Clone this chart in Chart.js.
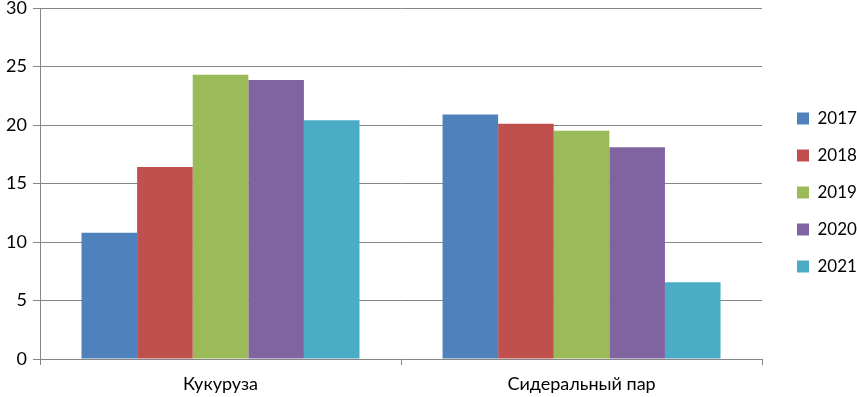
<!DOCTYPE html>
<html><head><meta charset="utf-8">
<script src="https://cdn.jsdelivr.net/npm/chart.js@4/dist/chart.umd.min.js"></script>
<style>html,body{margin:0;padding:0;background:#fff}#w{width:857px;height:397px}</style>
</head><body><div id="w"><canvas id="c"></canvas></div>
<script>
const categories = ["Кукуруза", "Сидеральный пар"];
const seriesNames = ["2017", "2018", "2019", "2020", "2021"];
const v2017 = [10.8, 20.9];
const v2018 = [16.4, 20.1];
const v2019 = [24.3, 19.5];
const v2020 = [23.85, 18.1];
const v2021 = [20.4, 6.55];
const colors = ["#4F81BD", "#C0504D", "#9BBB59", "#8064A2", "#4BACC6"];
const values = [v2017, v2018, v2019, v2020, v2021];
const FONT = "Lato, 'Open Sans', sans-serif";
const shiftLegend = {
  id: 'shiftLegend',
  afterLayout(chart) {
    const lg = chart.legend;
    const dx = 797 - (lg.left + lg.options.labels.padding);
    lg.left += dx; lg.right += dx;
    lg.top -= 10; lg.bottom -= 10;
  }
};
new Chart(document.getElementById('c'), {
  type: 'bar',
  data: {
    labels: categories,
    datasets: seriesNames.map((n, i) => ({label: n, data: values[i], backgroundColor: colors[i], borderWidth: 0}))
  },
  plugins: [shiftLegend],
  options: {
    responsive: true, maintainAspectRatio: false, animation: false,
    layout: {padding: {top: 8, right: 5, left: 0, bottom: 0}},
    datasets: {bar: {categoryPercentage: 0.77, barPercentage: 1.0}},
    plugins: {
      tooltip: {enabled: false},
      legend: {position: 'right', align: 'center',
        labels: {boxWidth: 12, boxHeight: 12, padding: 20, color: '#000', font: {family: FONT, size: 17}}}
    },
    scales: {
      x: {
        grid: {offset: true, drawOnChartArea: false, drawTicks: true, tickLength: 6, color: '#868686'},
        border: {color: '#868686'},
        ticks: {color: '#000', font: {family: FONT, size: 18}, padding: 8},
        afterFit: s => { s.height = 38; }
      },
      y: {
        min: 0, max: 30,
        ticks: {stepSize: 5, color: '#000', font: {family: FONT, size: 18}, padding: 6},
        grid: {color: '#868686', tickLength: 7},
        border: {color: '#868686'},
        afterFit: s => { s.width = 40; s.paddingTop = 0; s.paddingBottom = 0; }
      }
    }
  }
});
</script></body></html>
